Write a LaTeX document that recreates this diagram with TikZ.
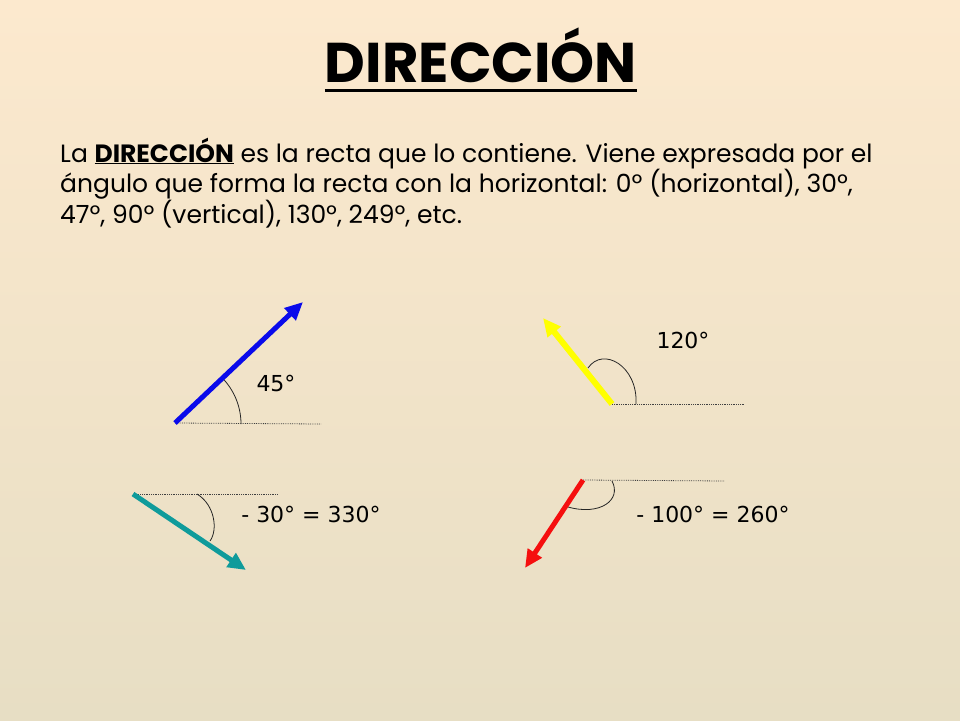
\documentclass[tikz,border=0pt]{standalone}
\usepackage{fontspec}
\setmainfont{Poppins}
\newfontfamily\labfont{DejaVu Sans}
\usetikzlibrary{arrows.meta}
\definecolor{bgtop}{RGB}{252,233,206}
\definecolor{bgmid}{RGB}{244,236,214}
\definecolor{bgbot}{RGB}{231,222,196}
\definecolor{vblue}{RGB}{10,10,235}
\definecolor{vyellow}{RGB}{255,255,0}
\definecolor{vteal}{RGB}{15,155,155}
\definecolor{vred}{RGB}{245,15,15}
\begin{document}
\begin{tikzpicture}[x=1pt,y=-1pt,
 vec/.style={line width=5pt, -{Triangle[length=18pt,width=16pt]}},
 refline/.style={densely dotted, line width=0.8pt, draw=black!75},
 arcline/.style={line width=0.8pt, draw=black!85},
 lab/.style={font=\labfont\fontsize{22}{26}\selectfont, inner sep=0pt},
 para/.style={font=\fontsize{25}{30}\selectfont, anchor=base west, inner sep=0pt}]
\useasboundingbox (0,0) rectangle (960,720);
\shade[top color=bgtop, middle color=bgmid, bottom color=bgbot] (0,0) rectangle (960,720);

% title
\node (title) at (481,82) [anchor=base, font=\bfseries\fontsize{56}{60}\selectfont, inner sep=0pt] {DIRECCIÓN};
\draw[line width=3pt] ([yshift=-8pt]title.base west) -- ([yshift=-8pt]title.base east);

% paragraph
\node (l1) at (60,162) [para] {La \underline{\textbf{DIRECCIÓN}} es la recta que lo contiene. Viene expresada por el};
\node (l2) at (60,192) [para] {ángulo que forma la recta con la horizontal: 0º (horizontal), 30º,};
\node (l3) at (60,223) [para] {47º, 90º (vertical), 130º, 249º, etc.};

% blue 45
\coordinate (b0) at (175,423);
\coordinate (b1) at (303,302);
\coordinate (bh) at (321,424);
\draw[refline] (b0) -- (bh);
\draw[arcline] (241,424) arc[start angle=0, end angle=-45, radius=66];
\draw[vec, vblue] (b0) -- (b1);
\node (blab) at (276,383) [lab] {45°};

% yellow 120
\coordinate (y0) at (612,404);
\coordinate (y1) at (543,318);
\coordinate (yh) at (745,404);
\draw[refline] (y0) -- (yh);
\draw[arcline] (636,404) .. controls (638,366) and (603,346) .. (588,368);
\draw[vec, vyellow, line width=6pt] (y0) -- (y1);
\node (ylab) at (683,340) [lab] {120°};

% teal -30
\coordinate (t0) at (133,494);
\coordinate (t1) at (246,570);
\coordinate (th) at (278,494);
\draw[refline] (t0) -- (th);
\draw[arcline] (197,494) .. controls (215,505) and (218,530) .. (210,541);
\draw[vec, vteal] (t0) -- (t1);
\node (tlab) at (311,514) [lab] {- 30° = 330°};

% red -100
\coordinate (r0) at (583,480);
\coordinate (r1) at (525,568);
\coordinate (rh) at (725,481);
\draw[refline] (r0) -- (rh);
\draw[arcline] (612,481) .. controls (622,500) and (600,516) .. (568,507);
\draw[vec, vred] (r0) -- (r1);
\node (rlab) at (713,514) [lab] {- 100° = 260°};
\end{tikzpicture}
\end{document}
